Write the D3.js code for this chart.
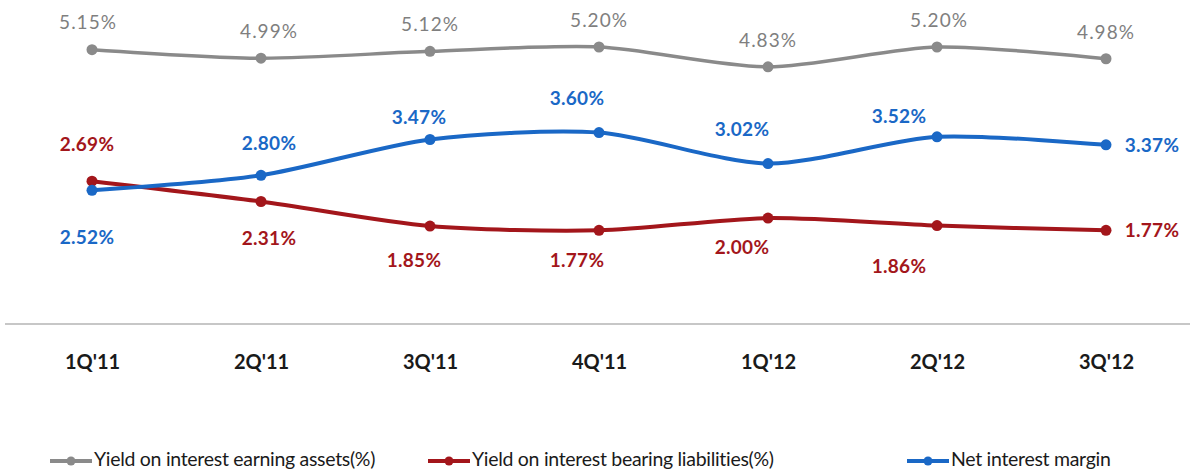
<!DOCTYPE html>
<html>
<head>
<meta charset="utf-8">
<script src="https://cdn.jsdelivr.net/npm/d3@7"></script>
<style>
  body { margin: 0; background: #fff; }
  svg { display: block; }
</style>
</head>
<body>
<svg id="chart"></svg>
<script>
var quarters = ["1Q'11", "2Q'11", "3Q'11", "4Q'11", "1Q'12", "2Q'12", "3Q'12"];
var assetYield = [5.15, 4.99, 5.12, 5.20, 4.83, 5.20, 4.98];
var liabilityYield = [2.69, 2.31, 1.85, 1.77, 2.00, 1.86, 1.77];
var netMargin = [2.52, 2.80, 3.47, 3.60, 3.02, 3.52, 3.37];
var seriesNames = ["Yield on interest earning assets(%)", "Yield on interest bearing liabilities(%)", "Net interest margin"];

// label placement (dx, dy from the point)
var grayLab = [[-4,-25],[8,-25],[0,-25],[0,-25],[0,-25],[2,-25],[0,-25]];
var redLab = [[-5,-35],[8,39],[-16,36],[-22,32],[-26,31],[-38,43],[46,2]];
var blueLab = [[-5,49],[8,-30],[-11,-20],[-22,-32],[-26,-32],[-38,-19],[46,2]];

var W = 1192, H = 471;
var svg = d3.select('#chart').attr('width', W).attr('height', H);

var x = d3.scalePoint().domain(quarters).range([92, 1106]);
var y = d3.scaleLinear().domain([0, 5.2]).range([325, 47]);

var colors = ['#8a8a8a', '#a3161b', '#1a68c6'];
var labColors = ['#7f7f7f', '#a3161b', '#1a68c6'];
var all = [assetYield, liabilityYield, netMargin];
var labs = [grayLab, redLab, blueLab];

// baseline
svg.append('line')
    .attr('x1', 5).attr('x2', 1190)
    .attr('y1', y(0) - 1).attr('y2', y(0) - 1)
    .attr('stroke', '#b5b5b5').attr('stroke-width', 1.5);

var xAxis = svg.append('g').attr('transform', 'translate(0,' + (y(0) + 30) + ')')
    .call(d3.axisBottom(x).tickSize(0).tickPadding(0));
xAxis.select('.domain').remove();
xAxis.selectAll('text')
    .attr('font-family', 'Lato, sans-serif')
    .attr('font-size', 20).attr('font-weight', 'bold').attr('fill', '#1a1a1a');

var line = d3.line()
    .x(function(d, i){ return x(quarters[i]); })
    .y(function(d){ return y(d); })
    .curve(d3.curveCardinal.tension(0.2));

all.forEach(function(vals, s){
    svg.append('path')
        .datum(vals)
        .attr('d', line)
        .attr('fill', 'none')
        .attr('stroke', colors[s])
        .attr('stroke-width', s == 0 ? 3.5 : 4);
    vals.forEach(function(v, i){
        svg.append('circle')
            .attr('cx', x(quarters[i])).attr('cy', y(v))
            .attr('r', 5.5).attr('fill', colors[s]);
        svg.append('text')
            .attr('x', x(quarters[i]) + labs[s][i][0])
            .attr('y', y(v) + labs[s][i][1])
            .attr('text-anchor', 'middle')
            .attr('dominant-baseline', 'middle')
            .attr('font-family', 'Lato, sans-serif')
            .attr('font-size', 19)
            .attr('letter-spacing', s == 0 ? 1 : 0.3)
            .attr('font-weight', s == 0 ? 'normal' : 'bold')
            .attr('fill', labColors[s])
            .text(v.toFixed(2) + '%');
    });
});

// legend
var legX = [50, 428, 907];
seriesNames.forEach(function(name, s){
    var g = svg.append('g').attr('transform', 'translate(' + legX[s] + ',461)');
    g.append('line').attr('x1', 0).attr('x2', 42).attr('y1', 0).attr('y2', 0)
        .attr('stroke', colors[s]).attr('stroke-width', 4);
    g.append('circle').attr('cx', 21).attr('cy', 0).attr('r', 4.5).attr('fill', colors[s]);
    g.append('text').attr('x', 44).attr('y', 0)
        .attr('dominant-baseline', 'middle')
        .attr('font-family', 'Lato, sans-serif')
        .attr('font-size', 19.5).attr('letter-spacing', -0.3).attr('fill', '#1a1a1a')
        .text(name);
});
</script>
</body>
</html>
